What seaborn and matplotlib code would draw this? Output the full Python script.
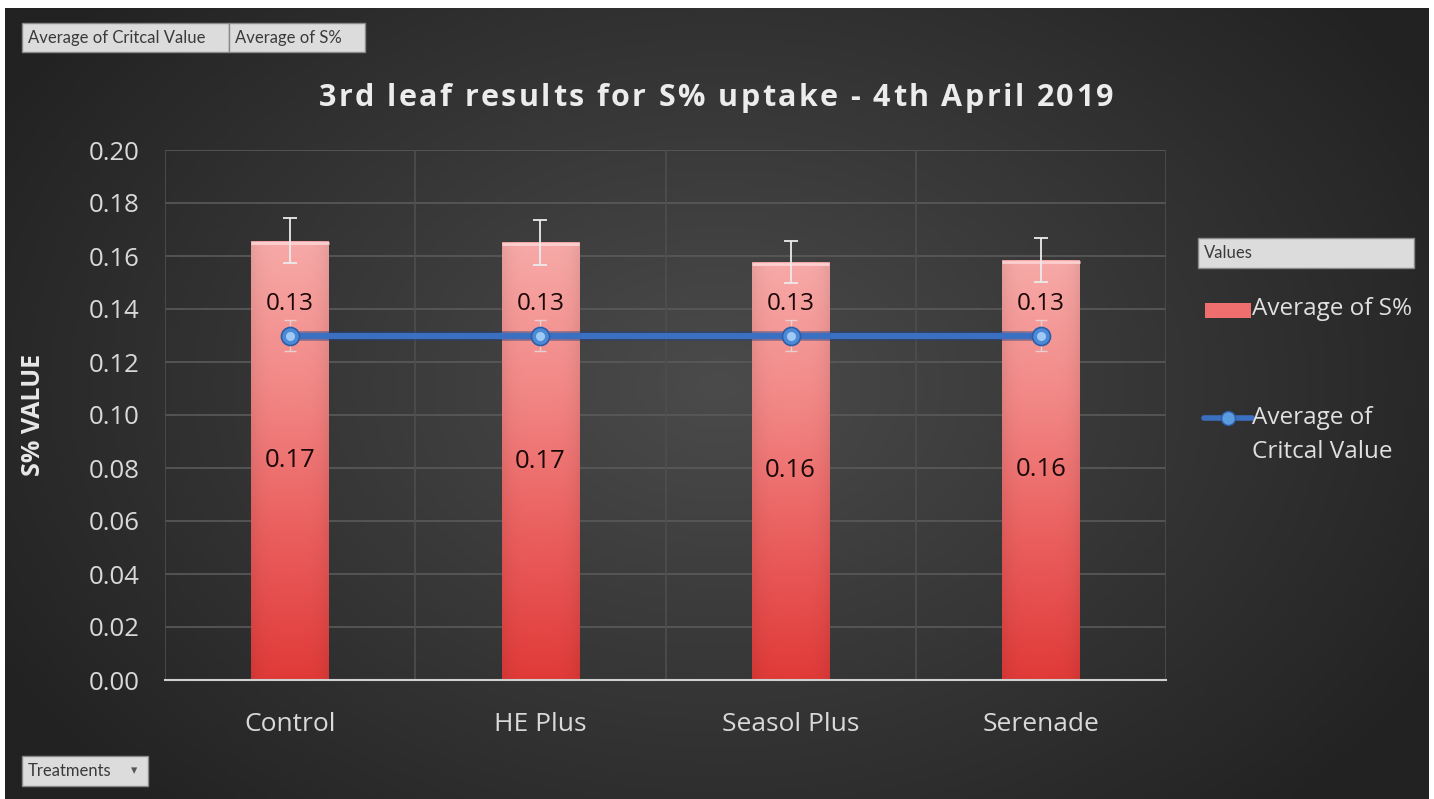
import numpy as np
import matplotlib
matplotlib.use("Agg")
import matplotlib.pyplot as plt
import seaborn as sns
from matplotlib.colors import LinearSegmentedColormap
from matplotlib.patches import Rectangle
from matplotlib.lines import Line2D
from matplotlib import font_manager, ft2font

# ---------------- data ----------------
categories = ["Control", "HE Plus", "Seasol Plus", "Serenade"]
s_pct = [0.1657, 0.1652, 0.1578, 0.1586]
s_pct_err = [0.0085, 0.0085, 0.0080, 0.0083]
critical = [0.13, 0.13, 0.13, 0.13]
critical_err = [0.006, 0.006, 0.006, 0.006]
yticks = [0.00, 0.02, 0.04, 0.06, 0.08, 0.10, 0.12, 0.14, 0.16, 0.18, 0.20]

title = "3rd leaf results for S% uptake - 4th April 2019"
ylabel = "S% VALUE"

sns.set_theme(style="dark")
plt.rcParams["font.family"] = ["Open Sans", "DejaVu Sans"]

W, H = 1434, 799
fig = plt.figure(figsize=(W / 100, H / 100), dpi=100)
fig.patch.set_facecolor("white")


def fx(px):
    return px / W


def fy(py):
    return 1 - py / H


# ---------------- background ----------------
bg = fig.add_axes([fx(5), 0, fx(1429) - fx(5), fy(8)], zorder=-10)
bg.axis("off")
yy, xx = np.mgrid[0:200, 0:360]
cx, cy = 180, 95
d = np.sqrt(((xx - cx) / 210.0) ** 2 + ((yy - cy) / 150.0) ** 2)
d = np.clip(d, 0, 1)
c_in = np.array([0x4b, 0x4b, 0x4b]) / 255
c_out = np.array([0x22, 0x22, 0x22]) / 255
img = c_in[None, None, :] * (1 - d[..., None]) + c_out[None, None, :] * d[..., None]
bg.imshow(img, aspect="auto", extent=[0, 1, 0, 1])
bg.set_xlim(0, 1)
bg.set_ylim(0, 1)

# ---------------- main axes ----------------
ax = fig.add_axes([fx(165), fy(680), fx(1166) - fx(165), fy(150) - fy(680)])
ax.set_facecolor("none")

sns.barplot(x=categories, y=s_pct, ax=ax, width=0.31, color="#ef7474",
            errorbar=None, zorder=3)

bar_cmap = LinearSegmentedColormap.from_list(
    "bar", ["#e03a38", "#ea5f5e", "#f28886", "#f7aaa8"])
grad = np.linspace(0, 1, 256)[:, None]
hshade = 1 - 0.07 * (np.abs(np.linspace(-1, 1, 64)) ** 4)
for p in list(ax.patches):
    x0, y0 = p.get_x(), p.get_y()
    w, h = p.get_width(), p.get_height()
    rgba = bar_cmap(np.repeat(grad, 64, axis=1))
    rgba[..., :3] *= hshade[None, :, None]
    im = ax.imshow(rgba, extent=[x0, x0 + w, y0, y0 + h], origin="lower",
                   aspect="auto", zorder=3, interpolation="bilinear")
    im.set_clip_path(p)
    p.set_facecolor("none")
    p.set_edgecolor("none")
    ax.plot([x0, x0 + w], [y0 + h - 0.0008] * 2, color="#fbd0cf", lw=2,
            zorder=4, solid_capstyle="butt")

xpos = np.arange(len(categories))
ax.errorbar(xpos, s_pct, yerr=s_pct_err, fmt="none", ecolor="#ececec",
            elinewidth=1.3, capsize=5, capthick=1.3, zorder=5)

# critical value line
ax.errorbar(xpos, critical, yerr=critical_err, fmt="none", ecolor="#e6dede",
            elinewidth=1.0, capsize=4, capthick=1.0, zorder=5, alpha=0.8)
ax.plot(xpos, critical, color="#1e3f7a", lw=7, zorder=5, alpha=0.45,
        solid_capstyle="round")
ax.plot(xpos, critical, color="#3b6fc2", lw=4.5, zorder=6,
        marker="o", markersize=13, markerfacecolor="#4d8ad6",
        markeredgecolor="#2d5da6", markeredgewidth=1.2)
ax.plot(xpos, critical, lw=0, marker="o", markersize=6.5,
        markerfacecolor="#9fcaf5", markeredgecolor="none", zorder=7)

# labels
for i, v in enumerate(s_pct):
    ax.text(i, v / 2, f"{v:.2f}", ha="center", va="center", fontsize=18.5,
            color="#1a0808", zorder=8)
for i, v in enumerate(critical):
    ax.annotate(f"{v:.2f}", (i, v), xytext=(0, 23), textcoords="offset points",
                ha="center", va="center", fontsize=17.5, color="#1a0808",
                zorder=8)

ax.set_xlim(-0.5, len(categories) - 0.5)
ax.set_ylim(0, 0.2)
ax.set_yticks(yticks)
ax.set_yticklabels([f"{t:.2f}" for t in yticks])
ax.set_xticks(xpos)
ax.grid(False)
for t in yticks[1:]:
    ax.axhline(t, color="#5a5a5a", lw=1.2, zorder=1)
for xm in np.arange(-0.5, len(categories), 1):
    ax.axvline(xm, color="#4e4e4e", lw=1.2, zorder=1)

for s in ["top", "right", "left"]:
    ax.spines[s].set_visible(False)
ax.spines["bottom"].set_color("#d0d0d0")
ax.spines["bottom"].set_linewidth(1.5)
ax.spines["bottom"].set_zorder(9)

ax.tick_params(axis="y", colors="#d9d9d9", labelsize=18.5, length=0, pad=18)
ax.tick_params(axis="x", colors="#d9d9d9", labelsize=19, length=0, pad=23)
ax.set_xlabel("")
ax.set_ylabel("")

fig.text(fx(33), fy(415), ylabel, rotation=90, ha="center", va="center",
         fontsize=18, fontweight="bold", color="#e8e8e8")

# title with letter spacing
title_size = 22
fprop = font_manager.FontProperties(family="Open Sans", weight="bold")
fnt = ft2font.FT2Font(font_manager.findfont(fprop))
fnt.set_size(title_size, 100)
advs = []
for ch in title:
    g = fnt.load_char(ord(ch))
    advs.append(g.linearHoriAdvance / 65536.0)
spacing = 2.4
total = sum(advs) + spacing * (len(title) - 1)
xcur = 716 - total / 2
for ch, a in zip(title, advs):
    if ch != " ":
        fig.text(fx(xcur), fy(98), ch, ha="left", va="center",
                 fontsize=title_size, fontweight="bold", color="#ececec",
                 family=["Open Sans", "DejaVu Sans"])
    xcur += a + spacing


# ---------------- buttons ----------------
def button(x0, y0, x1, y1, label, arrow=False):
    r = Rectangle((fx(x0), fy(y1)), fx(x1) - fx(x0), fy(y0) - fy(y1),
                  transform=fig.transFigure, facecolor="#dcdcdc",
                  edgecolor="#8a8a8a", lw=1, zorder=20)
    fig.add_artist(r)
    fig.text(fx(x0 + 6), fy((y0 + y1) / 2), label, ha="left", va="center",
             fontsize=12, color="#3a3a3a", zorder=21,
             family=["Lato", "DejaVu Sans"])
    if arrow:
        fig.text(fx(x1 - 14), fy((y0 + y1) / 2), "▾", ha="center", va="center",
                 fontsize=9, color="#555555", zorder=21,
                 family=["DejaVu Sans"])


button(22, 23, 229, 52, "Average of Critcal Value")
button(229, 23, 365, 52, "Average of S%")
button(22, 756, 148, 786, "Treatments", arrow=True)
button(1198, 238, 1414, 268, "Values")

# ---------------- legend ----------------
leg_bar = Rectangle((fx(1205), fy(318)), fx(1251) - fx(1205), fy(303) - fy(318),
                    transform=fig.transFigure, facecolor="#ef6f6f",
                    edgecolor="none", zorder=20)
fig.add_artist(leg_bar)
fig.text(fx(1252), fy(309), "Average of S%", ha="left", va="center",
         fontsize=17.5, color="#e0e0e0")
fig.add_artist(Line2D([fx(1204), fx(1252)], [fy(418), fy(418)],
                      transform=fig.transFigure, color="#3b6fc2", lw=4))
fig.add_artist(Line2D([fx(1228)], [fy(418)], transform=fig.transFigure,
                      marker="o", markersize=10, markerfacecolor="#5b9be0",
                      markeredgecolor="#2d5da6", lw=0))
fig.text(fx(1252), fy(418), "Average of", ha="left", va="center",
         fontsize=17.5, color="#e0e0e0")
fig.text(fx(1252), fy(452), "Critcal Value", ha="left", va="center",
         fontsize=17.5, color="#e0e0e0")

fig.savefig("out.png", dpi=100, facecolor=fig.get_facecolor())
